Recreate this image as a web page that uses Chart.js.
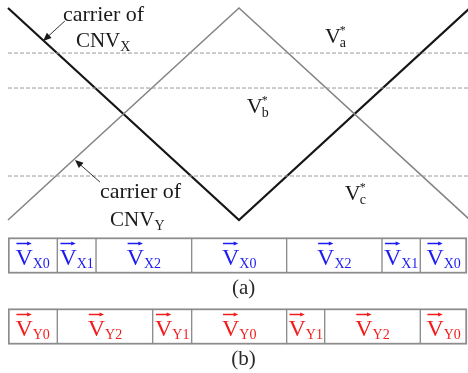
<!DOCTYPE html>
<html lang="en">
<head>
<meta charset="UTF-8">
<title>Carrier comparison and vector sequence</title>
<style>
  body { margin: 0; background: #fff; }
  #wrap { position: relative; width: 468px; height: 373px; overflow: hidden; background: #fff; }
  #wrap canvas { position: absolute; left: 0; }
  #carrierChart { top: 0; }
  #vectorChart { top: 210px; }
</style>
</head>
<body>
<div id="wrap">
  <canvas id="carrierChart" width="468" height="232"></canvas>
  <canvas id="vectorChart" width="468" height="163"></canvas>
</div>
<script src="https://cdn.jsdelivr.net/npm/chart.js@4.4.1/dist/chart.umd.min.js"></script>
<script>
// ---- data ----
const period = [0, 0.5, 1];
const carrierX = [1, -1, 1];
const carrierY = [-1, 1, -1];
const refNames = ['a', 'b', 'c'];
const refLevels = [0.575, 0.245, -0.585];

const rowNames = ['(a)', '(b)'];
const edgesA = [0, 0.1067, 0.1905, 0.3976, 0.6032, 0.8095, 0.8924, 0.9935];
const vectorsA = ['X0', 'X1', 'X2', 'X0', 'X2', 'X1', 'X0'];
const edgesB = [0, 0.1067, 0.3132, 0.3976, 0.6032, 0.6855, 0.8924, 0.9935];
const vectorsB = ['Y0', 'Y2', 'Y1', 'Y0', 'Y1', 'Y2', 'Y0'];

// ---- label placement (data units) ----
const serif = "'Liberation Serif', 'DejaVu Serif', serif";
const refLabelPos = [[0.686, 0.67], [0.517, 0.01], [0.729, -0.81]];
const carrierNotes = [
  { text: 'carrier of', sub: 'X', line1: [0.119, 0.877], line2: [0.147, 0.632],
    from: [0.123, 0.877], to: [0.076, 0.689] },
  { text: 'carrier of', sub: 'Y', line1: [0.199, -0.792], line2: [0.221, -1.057],
    from: [0.199, -0.642], to: [0.145, -0.434] }
];

function drawArrow(ctx, x1, y1, x2, y2, head) {
  const a = Math.atan2(y2 - y1, x2 - x1);
  ctx.beginPath();
  ctx.moveTo(x1, y1);
  ctx.lineTo(x2 - Math.cos(a) * head * 0.8, y2 - Math.sin(a) * head * 0.8);
  ctx.stroke();
  ctx.beginPath();
  ctx.moveTo(x2, y2);
  ctx.lineTo(x2 - head * Math.cos(a - 0.4), y2 - head * Math.sin(a - 0.4));
  ctx.lineTo(x2 - head * Math.cos(a + 0.4), y2 - head * Math.sin(a + 0.4));
  ctx.closePath();
  ctx.fill();
}

const carrierLabels = {
  id: 'carrierLabels',
  afterDraw(chart) {
    const { ctx, scales: { x, y } } = chart;
    const P = p => [x.getPixelForValue(p[0]), y.getPixelForValue(p[1])];
    ctx.save();
    ctx.fillStyle = '#1a1a1a';
    ctx.strokeStyle = '#333';
    ctx.textBaseline = 'alphabetic';
    refNames.forEach((n, i) => {
      const [px, py] = P(refLabelPos[i]);
      ctx.font = '22px ' + serif;
      ctx.fillText('V', px, py);
      const w = ctx.measureText('V').width;
      ctx.font = '14px ' + serif;
      ctx.fillText(n, px + w - 1, py + 4);
      ctx.font = '12px ' + serif;
      ctx.fillText('*', px + w - 1, py - 9);
    });
    carrierNotes.forEach(c => {
      let [px, py] = P(c.line1);
      ctx.font = '22px ' + serif;
      ctx.fillText(c.text, px, py);
      [px, py] = P(c.line2);
      ctx.font = '21px ' + serif;
      ctx.fillText('CNV', px, py);
      const w = ctx.measureText('CNV').width;
      ctx.font = '14px ' + serif;
      ctx.fillText(c.sub, px + w, py + 4);
      const [x1, y1] = P(c.from), [x2, y2] = P(c.to);
      ctx.lineWidth = 1;
      drawArrow(ctx, x1, y1, x2, y2, 9);
    });
    ctx.restore();
  }
};

const pts = vals => period.map((t, i) => ({ x: t, y: vals[i] }));

new Chart(document.getElementById('carrierChart'), {
  type: 'scatter',
  data: {
    datasets: [
      ...refLevels.map(v => ({
        data: [{ x: 0, y: v }, { x: 1, y: v }],
        borderColor: '#9a9a9a', borderWidth: 1, borderDash: [4, 2]
      })),
      { data: pts(carrierY), borderColor: '#858585', borderWidth: 1.6 },
      { data: pts(carrierX), borderColor: '#161616', borderWidth: 2.2 }
    ]
  },
  options: {
    responsive: false,
    animation: false,
    showLine: true,
    elements: { point: { radius: 0 }, line: { tension: 0 } },
    datasets: { scatter: { clip: false } },
    layout: { padding: { left: 8, right: 0, top: 8, bottom: 12 } },
    scales: {
      x: { type: 'linear', min: 0, max: 0.9957, display: false },
      y: { min: -1, max: 1, display: false }
    },
    plugins: { legend: { display: false }, tooltip: { enabled: false } }
  },
  plugins: [carrierLabels]
});

// ---- vector strips ----
function drawVec(ctx, cx, cy, sub, color) {
  ctx.font = '24px ' + serif;
  const wV = ctx.measureText('V').width;
  ctx.font = '14px ' + serif;
  const wS = ctx.measureText(sub).width;
  const x0 = cx - (wV + wS) / 2;
  ctx.fillStyle = color;
  ctx.strokeStyle = color;
  ctx.font = '24px ' + serif;
  ctx.fillText('V', x0, cy + 9);
  ctx.font = '14px ' + serif;
  ctx.fillText(sub, x0 + wV, cy + 12);
  ctx.lineWidth = 1.5;
  drawArrow(ctx, x0 + 1, cy - 12, x0 + wV - 1, cy - 12, 5);
}

const vectorLabels = {
  id: 'vectorLabels',
  afterDatasetsDraw(chart) {
    const { ctx, scales: { x, y } } = chart;
    ctx.save();
    ctx.textBaseline = 'alphabetic';
    chart.data.datasets.forEach((ds, di) => {
      chart.getDatasetMeta(di).data.forEach((el, i) => {
        if (ds.data[i] == null) return;
        drawVec(ctx, (el.x + el.base) / 2, el.y, ds.vec, ds.textColor);
      });
    });
    ctx.fillStyle = '#2a2a2a';
    ctx.font = '21px ' + serif;
    ctx.textAlign = 'center';
    rowNames.forEach((r, i) => {
      ctx.fillText(r, x.getPixelForValue(0.51), y.getPixelForValue(i) + 38);
    });
    ctx.restore();
  }
};

function stripSets(edges, vecs, row, color) {
  return vecs.map((v, i) => {
    const d = [null, null];
    d[row] = [edges[i], edges[i + 1]];
    return {
      data: d, vec: v, textColor: color,
      backgroundColor: '#fff', borderColor: '#8c8c8c',
      borderWidth: { top: 2, bottom: 2, left: i === 0 ? 2 : 1, right: i === vecs.length - 1 ? 2 : 1 },
      borderSkipped: false, grouped: false, barThickness: 36
    };
  });
}

new Chart(document.getElementById('vectorChart'), {
  type: 'bar',
  data: {
    labels: rowNames,
    datasets: [
      ...stripSets(edgesA, vectorsA, 0, '#1c1cf2'),
      ...stripSets(edgesB, vectorsB, 1, '#f21c1c')
    ]
  },
  options: {
    responsive: false,
    animation: false,
    indexAxis: 'y',
    layout: { padding: { left: 8, right: 0, top: 10, bottom: 11 } },
    scales: {
      x: { type: 'linear', min: 0, max: 0.9957, display: false },
      y: { display: false }
    },
    plugins: { legend: { display: false }, tooltip: { enabled: false } }
  },
  plugins: [vectorLabels]
});
</script>
</body>
</html>
